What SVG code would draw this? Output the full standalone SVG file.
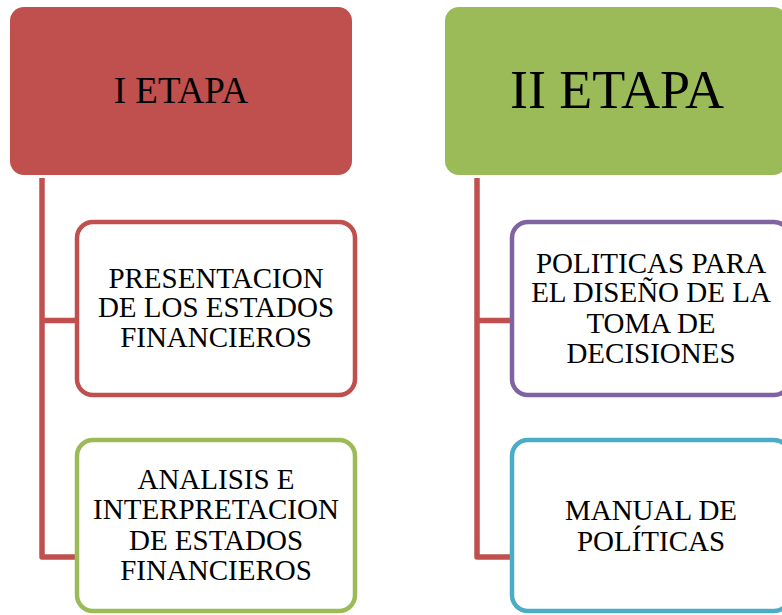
<svg xmlns="http://www.w3.org/2000/svg" width="782" height="615" viewBox="0 0 782 615">
<style>
.t{font-family:"Liberation Serif","Times New Roman",serif;fill:#000;text-anchor:middle}
.s{font-size:29px}
.child{fill:#fff;stroke-width:4.5}
.conn{fill:none;stroke:#C0504D;stroke-width:5.5;stroke-linejoin:round}
</style>
<rect width="782" height="615" fill="#fff"/>
<g id="connectors">
<path class="conn" d="M42,178 V557 H77 M42,320.5 H77"/>
<path class="conn" d="M477,178 V557 H512 M477,320.5 H512"/>
</g>
<g id="etapa1">
<rect x="10" y="7" width="342" height="168" rx="14" fill="#C0504D"/>
<text class="t" x="181" y="103" font-size="37">I ETAPA</text>
</g>
<g id="etapa2">
<rect x="445" y="7" width="342" height="168" rx="14" fill="#9BBB59"/>
<text class="t" x="617" y="108" font-size="54">II ETAPA</text>
</g>
<g id="presentacion">
<rect class="child" x="77" y="222" width="278" height="173" rx="16" stroke="#C0504D"/>
<text class="t s" x="216"><tspan x="216" y="288">PRESENTACION</tspan><tspan x="216" y="317">DE LOS ESTADOS</tspan><tspan x="216" y="347">FINANCIEROS</tspan></text>
</g>
<g id="analisis">
<rect class="child" x="77" y="440" width="278" height="171" rx="16" stroke="#9BBB59"/>
<text class="t s" x="216"><tspan x="216" y="489">ANALISIS E</tspan><tspan x="216" y="519">INTERPRETACION</tspan><tspan x="216" y="550">DE ESTADOS</tspan><tspan x="216" y="580">FINANCIEROS</tspan></text>
</g>
<g id="politicas">
<rect class="child" x="512" y="222" width="278" height="173" rx="16" stroke="#8064A2"/>
<text class="t s" x="651"><tspan x="651" y="273">POLITICAS PARA</tspan><tspan x="651" y="302">EL DISEÑO DE LA</tspan><tspan x="651" y="333">TOMA DE</tspan><tspan x="651" y="363">DECISIONES</tspan></text>
</g>
<g id="manual">
<rect class="child" x="512" y="440" width="278" height="171" rx="16" stroke="#4BACC6"/>
<text class="t s" x="651"><tspan x="651" y="520">MANUAL DE</tspan><tspan x="651" y="551">POLÍTICAS</tspan></text>
</g>
</svg>
